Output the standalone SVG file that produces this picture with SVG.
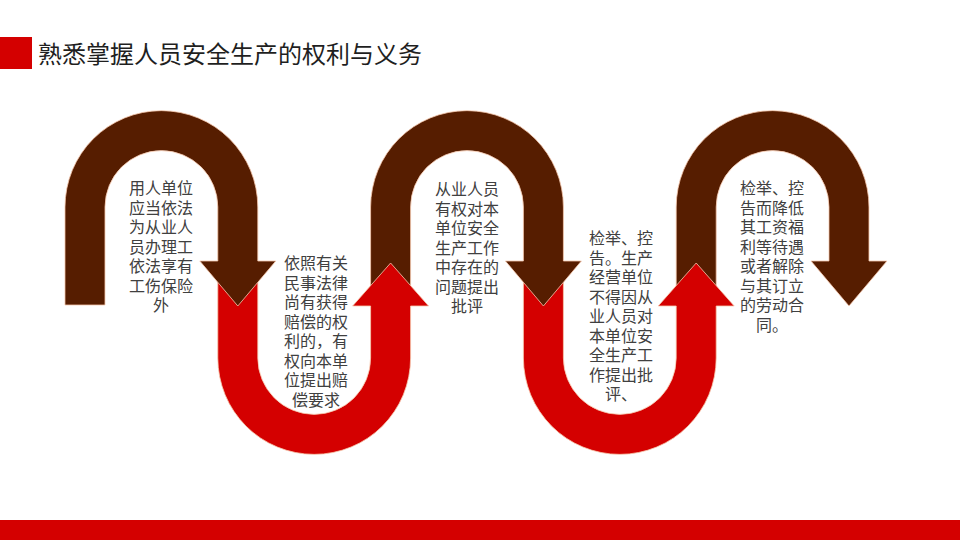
<svg xmlns="http://www.w3.org/2000/svg" width="960" height="540" viewBox="0 0 960 540">
<style>
.brown{fill:#561D00;stroke:#F6C9AE;stroke-width:0.8}
.red{fill:#D40000;stroke:#F6C9AE;stroke-width:0.8}
.t{font-family:"Noto Sans CJK SC","Liberation Sans",sans-serif;font-size:16px;fill:#404040;text-anchor:middle}
.title{font-family:"Noto Sans CJK SC","Liberation Sans",sans-serif;font-size:24px;fill:#1F1F1F}
</style>
<defs>
<path id="archB" d="M -96.4 98 V 0 A 96.4 96.4 0 0 1 96.4 0 V 54 H 114.4 L 76.4 99 L 38.4 54 H 56.4 V 0 A 56.4 56.4 0 0 0 -56.4 0 V 98 Z"/>
<path id="archR" d="M -96.4 -93 V 0 A 96.4 96.4 0 0 0 96.4 0 V -52 H 114.4 L 76.4 -95 L 38.4 -52 H 56.4 V 0 A 56.4 56.4 0 0 1 -56.4 0 V -93 Z"/>
</defs>
<rect x="0" y="0" width="960" height="540" fill="#FFFFFF"/>
<g id="header">
<rect x="0" y="37" width="32" height="32" fill="#D40000"/>
<text class="title" x="38" y="63">熟悉掌握人员安全生产的权利与义务</text>
</g>
<rect id="footer" x="0" y="520" width="960" height="20" fill="#D40000"/>
<g id="connectors">
<use id="brown3" href="#archB" class="brown" transform="translate(772.6 207)"/>
<use id="red2" href="#archR" class="red" transform="translate(619.8 358)"/>
<use id="brown2" href="#archB" class="brown" transform="translate(467 207)"/>
<use id="red1" href="#archR" class="red" transform="translate(314.2 358)"/>
<use id="brown1" href="#archB" class="brown" transform="translate(161.4 207)"/>
</g>
<g id="node1">
<text class="t"><tspan x="161" y="194">用人单位</tspan><tspan x="161" y="213.5">应当依法</tspan><tspan x="161" y="233">为从业人</tspan><tspan x="161" y="252.5">员办理工</tspan><tspan x="161" y="272">依法享有</tspan><tspan x="161" y="291.5">工伤保险</tspan><tspan x="161" y="311">外</tspan></text>
</g>
<g id="node2">
<text class="t"><tspan x="316" y="269">依照有关</tspan><tspan x="316" y="288.5">民事法律</tspan><tspan x="316" y="308">尚有获得</tspan><tspan x="316" y="327.5">赔偿的权</tspan><tspan x="316" y="347">利的，有</tspan><tspan x="316" y="366.5">权向本单</tspan><tspan x="316" y="386">位提出赔</tspan><tspan x="316" y="405.5">偿要求</tspan></text>
</g>
<g id="node3">
<text class="t"><tspan x="467" y="195">从业人员</tspan><tspan x="467" y="214.5">有权对本</tspan><tspan x="467" y="234">单位安全</tspan><tspan x="467" y="253.5">生产工作</tspan><tspan x="467" y="273">中存在的</tspan><tspan x="467" y="292.5">问题提出</tspan><tspan x="467" y="312">批评</tspan></text>
</g>
<g id="node4">
<text class="t"><tspan x="621" y="244">检举、控</tspan><tspan x="621" y="263.5">告。生产</tspan><tspan x="621" y="283">经营单位</tspan><tspan x="621" y="302.5">不得因从</tspan><tspan x="621" y="322">业人员对</tspan><tspan x="621" y="341.5">本单位安</tspan><tspan x="621" y="361">全生产工</tspan><tspan x="621" y="380.5">作提出批</tspan><tspan x="621" y="400">评、</tspan></text>
</g>
<g id="node5">
<text class="t"><tspan x="772" y="194">检举、控</tspan><tspan x="772" y="213.5">告而降低</tspan><tspan x="772" y="233">其工资福</tspan><tspan x="772" y="252.5">利等待遇</tspan><tspan x="772" y="272">或者解除</tspan><tspan x="772" y="291.5">与其订立</tspan><tspan x="772" y="311">的劳动合</tspan><tspan x="772" y="330.5">同。</tspan></text>
</g>
</svg>
